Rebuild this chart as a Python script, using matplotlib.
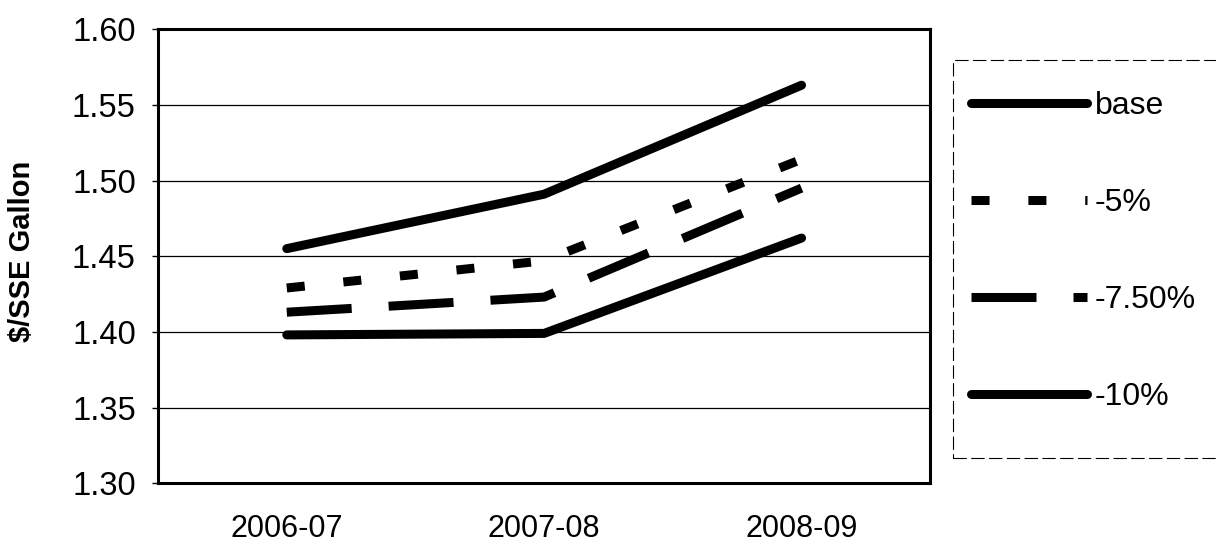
import matplotlib.pyplot as plt
from matplotlib.patches import Rectangle

plt.rcParams['font.family'] = ['Liberation Sans', 'DejaVu Sans']

# values
categories = ['2006-07', '2007-08', '2008-09']
base = [1.455, 1.491, 1.563]
minus_5 = [1.429, 1.447, 1.514]
minus_75 = [1.413, 1.423, 1.495]
minus_10 = [1.398, 1.399, 1.462]
series_labels = ['base', '-5%', '-7.50%', '-10%']
y_ticks = [1.30, 1.35, 1.40, 1.45, 1.50, 1.55, 1.60]

fig = plt.figure(figsize=(12.16, 5.51), dpi=100)
ax = fig.add_axes([0.130, 0.123, 0.635, 0.824])

x = range(len(categories))
lw = 6.5
ax.plot(x, base, color='black', lw=lw, solid_capstyle='round',
        solid_joinstyle='round', label=series_labels[0])
ax.plot(x, minus_5, color='black', lw=lw, linestyle=(0, (2.0, 4.3)),
        dash_capstyle='butt', label=series_labels[1])
ax.plot(x, minus_75, color='black', lw=lw, linestyle=(0, (7.2, 4.1)),
        dash_capstyle='butt', dash_joinstyle='round', label=series_labels[2])
ax.plot(x, minus_10, color='black', lw=lw, solid_capstyle='round',
        solid_joinstyle='round', label=series_labels[3])

ax.set_xlim(-0.5, 2.5)
ax.set_ylim(1.30, 1.60)
ax.set_yticks(y_ticks)
ax.set_yticklabels([f'{v:.2f}' for v in y_ticks])
ax.set_xticks(list(x))
ax.set_xticklabels(categories)
ax.yaxis.grid(True, color='black', lw=0.9)
ax.set_axisbelow(True)
for s in ax.spines.values():
    s.set_linewidth(2.2)
ax.tick_params(axis='y', labelsize=23.5, length=4, width=1, pad=12)
ax.tick_params(axis='x', labelsize=22, length=0, pad=22)

ax.set_ylabel('$/SSE Gallon', fontsize=21, fontweight='bold')
ax.yaxis.set_label_coords(-0.158, 0.51)

fig.legend(loc='upper left', bbox_to_anchor=(971 / 1216, 1 - 91 / 551),
           frameon=False, fontsize=23, borderpad=0, borderaxespad=0,
           handlelength=3.63, handletextpad=0.25, labelspacing=2.1)

frame = Rectangle((953 / 1216, 1 - 458 / 551), 270 / 1216, 398 / 551,
                  transform=fig.transFigure, fill=False, ec='black', lw=0.8,
                  linestyle=(0, (12, 4)), clip_on=False)
fig.add_artist(frame)

fig.savefig('out.png', dpi=100)
